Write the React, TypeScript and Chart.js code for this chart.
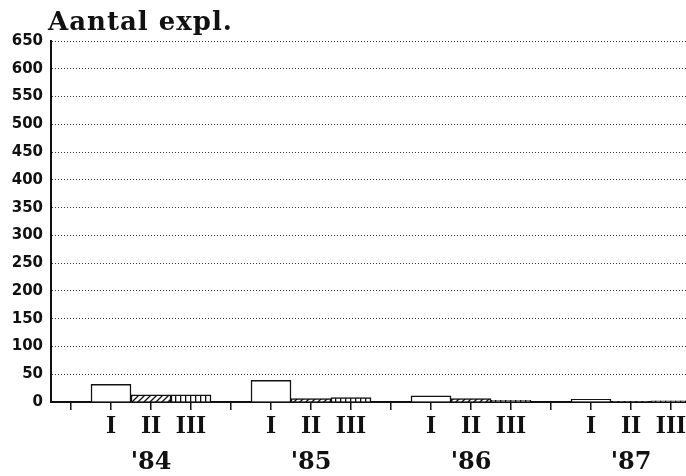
import React, { useEffect, useRef } from "react";
import { Chart, registerables } from "chart.js";

Chart.register(...registerables);

const years = ["'84", "'85", "'86", "'87"];
const quarters = ["I", "II", "III"];
const valuesI = [32, 39, 11, 5];
const valuesII = [13, 6, 6, 1];
const valuesIII = [13, 8, 3, 2];
const yTicks = [0, 50, 100, 150, 200, 250, 300, 350, 400, 450, 500, 550, 600, 650];
const title = "Aantal expl.";

function makeHatch(): CanvasPattern | string {
  const c = document.createElement("canvas");
  c.width = 6;
  c.height = 6;
  const g = c.getContext("2d");
  if (!g) return "#fff";
  g.fillStyle = "#fff";
  g.fillRect(0, 0, 6, 6);
  g.strokeStyle = "#111";
  g.lineWidth = 1.3;
  g.beginPath();
  g.moveTo(-1, 7);
  g.lineTo(7, -1);
  g.moveTo(-1, 1);
  g.lineTo(1, -1);
  g.moveTo(5, 7);
  g.lineTo(7, 5);
  g.stroke();
  const p = g.createPattern(c, "repeat");
  return p || "#fff";
}

function makeLadder(): CanvasPattern | string {
  const c = document.createElement("canvas");
  c.width = 5;
  c.height = 5;
  const g = c.getContext("2d");
  if (!g) return "#fff";
  g.fillStyle = "#fff";
  g.fillRect(0, 0, 5, 5);
  g.fillStyle = "#111";
  g.fillRect(0, 0, 1.3, 5);
  const p = g.createPattern(c, "repeat");
  return p || "#fff";
}

export default function App() {
  const ref = useRef<HTMLCanvasElement | null>(null);

  useEffect(() => {
    if (!ref.current) return;
    const hatch = makeHatch();
    const ladder = makeLadder();

    const labels: string[] = [];
    const yearLabels: string[] = [];
    const data: (number | null)[] = [];
    const colors: (CanvasPattern | string)[] = [];
    years.forEach((yr, i) => {
      labels.push("");
      yearLabels.push("");
      data.push(null);
      colors.push("#fff");
      const vals = [valuesI[i], valuesII[i], valuesIII[i]];
      const fills = ["#fff", hatch, ladder];
      quarters.forEach((q, j) => {
        labels.push(q);
        yearLabels.push(j === 1 ? yr : "");
        data.push(vals[j]);
        colors.push(fills[j]);
      });
    });

    const titlePlugin = {
      id: "titleText",
      afterDraw(chart: any) {
        const ctx = chart.ctx;
        ctx.save();
        ctx.fillStyle = "#111";
        ctx.font = "bold 26px 'DejaVu Serif'";
        (ctx as any).letterSpacing = "1px";
        ctx.textBaseline = "alphabetic";
        ctx.textAlign = "left";
        ctx.fillText(title, 48, 30);
        ctx.restore();
      },
    };

    const chart = new Chart(ref.current, {
      type: "bar",
      data: {
        labels,
        datasets: [
          {
            data,
            xAxisID: "x",
            backgroundColor: colors as any,
            borderColor: "#111",
            borderWidth: 1.5,
            borderSkipped: "bottom",
            categoryPercentage: 1,
            barPercentage: 1,
          },
        ],
      },
      options: {
        responsive: false,
        animation: false,
        layout: { padding: { top: 41, right: 9, left: 0, bottom: 0 } },
        plugins: { legend: { display: false }, tooltip: { enabled: false } },
        scales: {
          x: {
            position: "bottom",
            offset: true,
            grid: {
              offset: false,
              drawOnChartArea: false,
              drawTicks: true,
              tickLength: 8,
              color: "#111",
              lineWidth: 1.5,
            },
            border: { display: true, color: "#111", width: 2 },
            ticks: {
              autoSkip: false,
              maxRotation: 0,
              minRotation: 0,
              padding: 1,
              color: "#111",
              font: { family: "'Liberation Serif'", size: 26, weight: "bold", lineHeight: 1.2 },
            },
            afterFit(scale: any) {
              scale.height = 40;
            },
          },
          x2: {
            type: "category",
            position: "bottom",
            labels: yearLabels,
            offset: true,
            grid: { display: false, drawTicks: false, drawOnChartArea: false },
            border: { display: false },
            ticks: {
              autoSkip: false,
              maxRotation: 0,
              minRotation: 0,
              padding: 6,
              color: "#111",
              font: { family: "'DejaVu Serif'", size: 24, weight: "bold", lineHeight: 1.2 },
            },
            afterFit(scale: any) {
              scale.height = 34;
            },
          },
          y: {
            min: 0,
            max: 650,
            afterBuildTicks(scale: any) {
              scale.ticks = yTicks.map((v) => ({ value: v }));
            },
            grid: {
              drawTicks: false,
              color: "#333",
              lineWidth: 1,
            },
            border: { display: true, color: "#111", width: 2, dash: [1, 2] },
            ticks: {
              padding: 8,
              color: "#111",
              font: { family: "'DejaVu Sans'", size: 15, weight: "bold" },
            },
            afterFit(scale: any) {
              scale.width = 51;
            },
          },
        },
      },
      plugins: [titlePlugin],
    });

    return () => chart.destroy();
  }, []);

  return (
    <div
      style={{
        position: "fixed",
        left: 0,
        top: 0,
        width: 686,
        height: 476,
        overflow: "hidden",
        background: "#fff",
      }}
    >
      <canvas ref={ref} width={700} height={476} style={{ display: "block" }} />
    </div>
  );
}
